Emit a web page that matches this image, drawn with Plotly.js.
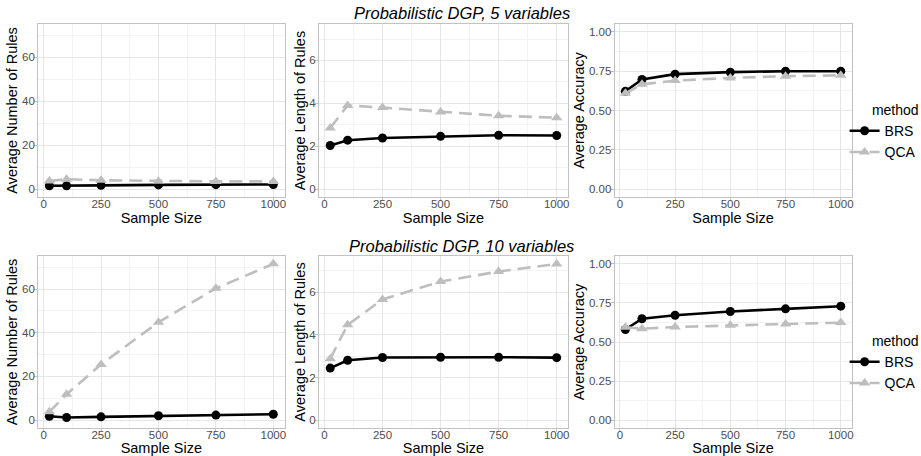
<!DOCTYPE html>
<html>
<head>
<meta charset="utf-8">
<script src="https://cdn.plot.ly/plotly-3.0.1.min.js"></script>
<style>html,body{margin:0;padding:0;background:#fff;} #chart{width:921px;height:456px;}</style>
</head>
<body>
<div id="chart"></div>
<script>
// ---- data ----
var sampleSize = [25, 100, 250, 500, 750, 1000];
var methods = ["BRS", "QCA"];
var rowTitles = ["Probabilistic DGP, 5 variables", "Probabilistic DGP, 10 variables"];
var yTitles = ["Average Number of Rules", "Average Length of Rules", "Average Accuracy"];
var xTitle = "Sample Size";

var num5_BRS = [1.5, 1.5, 1.7, 1.9, 2.0, 2.1];
var num5_QCA = [3.7, 4.5, 4.0, 3.6, 3.5, 3.5];
var len5_BRS = [2.03, 2.28, 2.38, 2.46, 2.51, 2.50];
var len5_QCA = [2.85, 3.90, 3.80, 3.60, 3.42, 3.33];
var acc5_BRS = [0.622, 0.697, 0.731, 0.744, 0.750, 0.750];
var acc5_QCA = [0.609, 0.667, 0.690, 0.707, 0.718, 0.724];

var num10_BRS = [1.8, 1.2, 1.5, 2.0, 2.3, 2.7];
var num10_QCA = [3.8, 11.8, 25.5, 44.8, 60.3, 71.5];
var len10_BRS = [2.44, 2.81, 2.94, 2.95, 2.95, 2.93];
var len10_QCA = [2.88, 4.47, 5.66, 6.50, 6.97, 7.33];
var acc10_BRS = [0.580, 0.649, 0.671, 0.695, 0.712, 0.729];
var acc10_QCA = [0.594, 0.585, 0.596, 0.607, 0.615, 0.624];

// ---- styling ----
var W = 921, H = 456;
var FONT = "Liberation Sans, Arial, Helvetica, sans-serif";
var colors = {BRS: "#000000", QCA: "#BEBEBE"};
var panels = [
  [num5_BRS, num5_QCA], [len5_BRS, len5_QCA], [acc5_BRS, acc5_QCA],
  [num10_BRS, num10_QCA], [len10_BRS, len10_QCA], [acc10_BRS, acc10_QCA]
];
var colX = [[38.5, 287], [321.7, 573], [620, 859]];
var rowY = [[24, 197], [256, 428]];
var yRanges = [[-3.6, 75.1], [-0.37, 7.7], [-0.05, 1.05]];
var yDticks = [20, 2, 0.25];
var yFormats = ["", "", ".2f"];

var traces = [];
var layout = {
  width: W, height: H,
  margin: {l: 0, r: 0, t: 0, b: 0},
  paper_bgcolor: "#ffffff", plot_bgcolor: "#ffffff",
  font: {family: FONT, color: "#000000"},
  showlegend: true,
  annotations: []
};

for (var p = 0; p < 6; p++) {
  var row = Math.floor(p / 3), col = p % 3;
  var n = p + 1;
  var xk = n === 1 ? "x" : "x" + n, yk = n === 1 ? "y" : "y" + n;
  var xa = n === 1 ? "xaxis" : "xaxis" + n, ya = n === 1 ? "yaxis" : "yaxis" + n;
  for (var m = 0; m < 2; m++) {
    var name = methods[m];
    traces.push({
      type: "scatter", mode: "lines+markers",
      x: sampleSize, y: panels[p][m],
      xaxis: xk, yaxis: yk, name: name,
      legend: row === 0 ? "legend" : "legend2",
      showlegend: col === 2,
      line: {color: colors[name], width: 2.6, dash: m === 0 ? "solid" : "13px,7px"},
      marker: {color: colors[name], size: m === 0 ? 9 : 10, symbol: m === 0 ? "circle" : "triangle-up"}
    });
  }
  var common = {
    showline: true, mirror: true, linecolor: "#C2C2C2", linewidth: 1,
    showgrid: true, gridcolor: "#E6E6E6", gridwidth: 1,
    zeroline: false,
    ticks: "outside", ticklen: 3, tickcolor: "#C2C2C2", tickwidth: 1,
    tickfont: {family: FONT, size: 11.5, color: "#4D4D4D"},
    automargin: false
  };
  layout[xa] = Object.assign({}, common, {
    anchor: yk,
    domain: [colX[col][0] / W, colX[col][1] / W],
    range: [-23.75, 1048.75],
    tick0: 0, dtick: 250,
    ticklabelstandoff: -7,
    minor: {dtick: 125, showgrid: true, gridcolor: "#F3F3F3", gridwidth: 1, ticks: ""},
    title: {text: xTitle, font: {family: FONT, size: 14.5, color: "#000000"}, standoff: 2}
  });
  layout[ya] = Object.assign({}, common, {
    anchor: xk,
    domain: [1 - rowY[row][1] / H, 1 - rowY[row][0] / H],
    range: yRanges[col],
    tick0: 0, dtick: yDticks[col], tickformat: yFormats[col],
    ticklabelstandoff: -3,
    minor: {dtick: yDticks[col] / 2, showgrid: true, gridcolor: "#F3F3F3", gridwidth: 1, ticks: ""},
    title: {text: yTitles[col], font: {family: FONT, size: 14.5, color: "#000000"}, standoff: 0}
  });
}

var legendCommon = {
  xanchor: "left", yanchor: "top",
  bgcolor: "rgba(0,0,0,0)", borderwidth: 0,
  font: {family: FONT, size: 14, color: "#000000"},
  itemwidth: 30, tracegroupgap: 0,
  title: {text: "method", side: "top right", font: {family: FONT, size: 14, color: "#000000"}}
};
layout.legend = Object.assign({}, legendCommon, {x: 852 / W, y: 1 - 97 / H});
layout.legend2 = Object.assign({}, legendCommon, {x: 852 / W, y: 1 - 328 / H});

var titleY = [13, 246];
for (var r = 0; r < 2; r++) {
  layout.annotations.push({
    text: rowTitles[r], xref: "paper", yref: "paper",
    x: 466 / W, y: 1 - titleY[r] / H, xanchor: "center", yanchor: "middle",
    showarrow: false,
    font: {family: FONT, size: 16.5, color: "#000000", style: "italic"}
  });
}

Plotly.newPlot("chart", traces, layout, {staticPlot: true, displayModeBar: false});
</script>
</body>
</html>
